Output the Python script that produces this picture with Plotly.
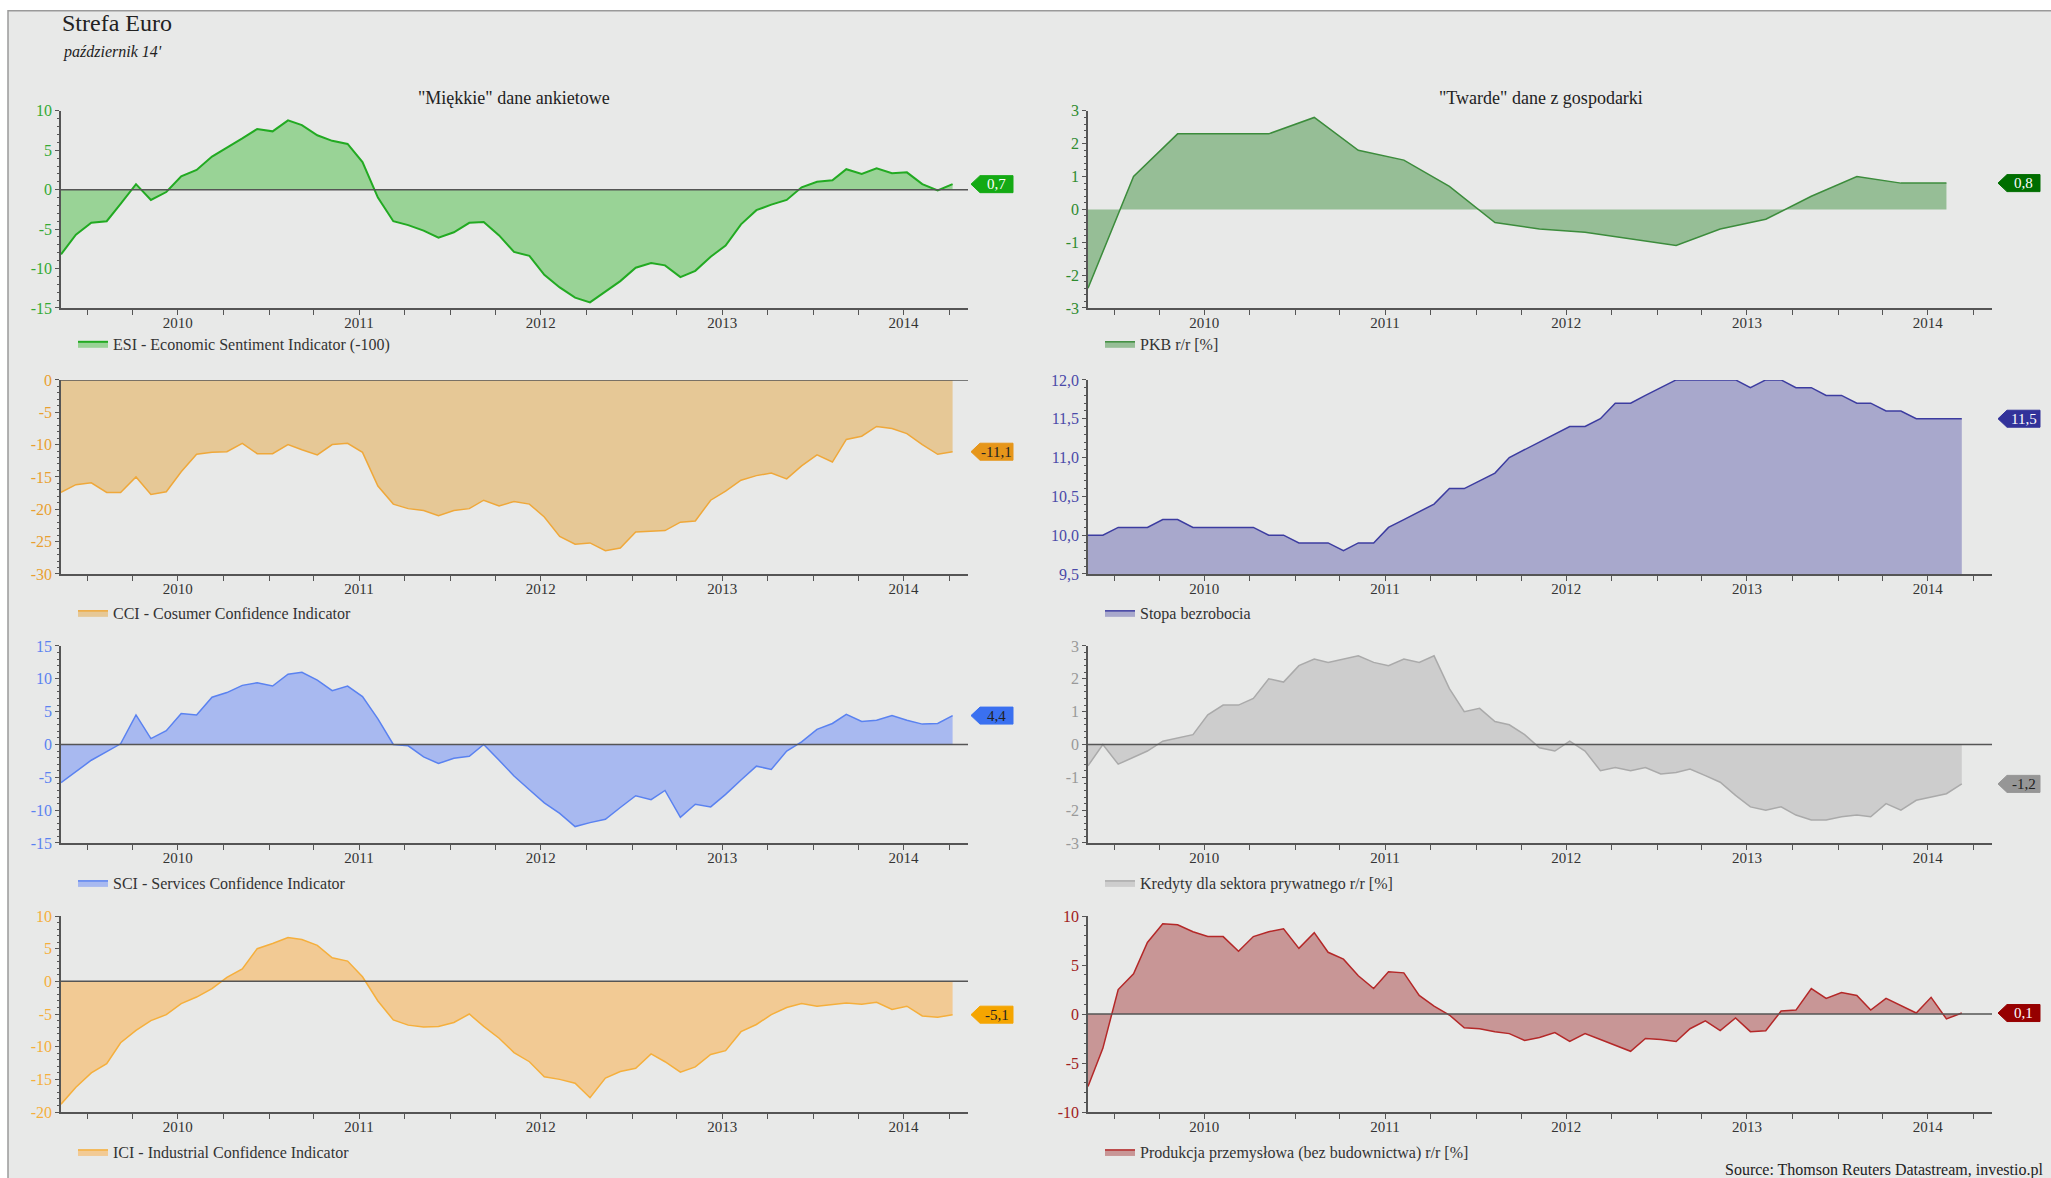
import pandas as pd
import plotly.graph_objects as go

W, H = 2051, 1178
FONT = "Palatino Linotype, Book Antiqua, Palatino, Liberation Serif, serif"
# the photographed page comes out shifted/squeezed vertically: shown_y = 7.15 + 0.9854 * y
Y_OFF, Y_SCALE = 7.15, 0.9854

# monthly points Nov 2009 - Oct 2014, quarterly GDP Q4 2009 - Q3 2014
months = pd.date_range("2009-11-01", periods=60, freq="MS") + pd.Timedelta(days=7)
quarters = pd.date_range("2009-11-01", periods=20, freq="3MS") + pd.Timedelta(days=7)
years = ["2010", "2011", "2012", "2013", "2014"]
year_mid = [y + "-07-01" for y in years]

esi = [-8.2, -5.7, -4.2, -4.0, -1.8, 0.7, -1.3, -0.3, 1.7, 2.5, 4.2, 5.3, 6.5, 7.7, 7.4,
       8.8, 8.2, 6.9, 6.2, 5.8, 3.5, -1.0, -4.0, -4.5, -5.2, -6.1, -5.4, -4.2, -4.1, -5.8,
       -7.9, -8.4, -10.8, -12.4, -13.7, -14.3, -12.9, -11.6, -9.9, -9.3, -9.6, -11.1, -10.3,
       -8.5, -7.1, -4.4, -2.6, -1.9, -1.3, 0.3, 1.0, 1.2, 2.6, 2.0, 2.7, 2.1, 2.2, 0.7, -0.1, 0.7]
cci = [-17.4, -16.2, -15.9, -17.4, -17.4, -15.0, -17.7, -17.3, -14.2, -11.5, -11.2, -11.1,
       -9.8, -11.4, -11.4, -10.0, -10.8, -11.6, -10.0, -9.8, -11.2, -16.4, -19.2, -19.9,
       -20.2, -21.0, -20.2, -19.9, -18.6, -19.5, -18.8, -19.2, -21.2, -24.2, -25.4, -25.2,
       -26.4, -26.0, -23.5, -23.4, -23.3, -22.0, -21.8, -18.6, -17.2, -15.5, -14.8, -14.4,
       -15.3, -13.3, -11.6, -12.7, -9.2, -8.7, -7.2, -7.5, -8.3, -10.0, -11.5, -11.1]
sci = [-5.8, -4.1, -2.4, -1.1, 0.1, 4.5, 0.9, 2.1, 4.7, 4.5, 7.2, 7.9, 9.0, 9.4, 8.9, 10.7,
       11.0, 9.8, 8.2, 8.9, 7.3, 3.9, 0.0, -0.2, -1.9, -2.9, -2.1, -1.8, 0.0, -2.4, -4.8,
       -6.9, -8.9, -10.5, -12.5, -11.9, -11.4, -9.6, -7.8, -8.4, -7.0, -11.1, -9.1, -9.5,
       -7.6, -5.4, -3.3, -3.8, -1.0, 0.4, 2.3, 3.2, 4.6, 3.5, 3.7, 4.4, 3.7, 3.1, 3.2, 4.4]
ici = [-18.8, -16.2, -14.0, -12.6, -9.4, -7.5, -6.0, -5.1, -3.4, -2.4, -1.1, 0.6, 1.9, 5.0,
       5.8, 6.7, 6.4, 5.5, 3.6, 3.1, 0.7, -3.0, -5.9, -6.7, -7.0, -6.9, -6.3, -5.0, -6.9,
       -8.7, -10.9, -12.3, -14.6, -15.0, -15.6, -17.8, -14.8, -13.8, -13.3, -11.1, -12.3,
       -13.9, -13.1, -11.2, -10.6, -7.7, -6.6, -5.1, -4.0, -3.4, -3.8, -3.5, -3.3, -3.5,
       -3.2, -4.3, -3.8, -5.3, -5.5, -5.1]
pkb = [-2.4, 1.0, 2.3, 2.3, 2.3, 2.8, 1.8, 1.5, 0.7, -0.4, -0.6, -0.7, -0.9, -1.1, -0.6,
       -0.3, 0.4, 1.0, 0.8, 0.8]
bezrobocie = [10.0, 10.0, 10.1, 10.1, 10.1, 10.2, 10.2, 10.1, 10.1, 10.1, 10.1, 10.1, 10.0,
              10.0, 9.9, 9.9, 9.9, 9.8, 9.9, 9.9, 10.1, 10.2, 10.3, 10.4, 10.6, 10.6, 10.7,
              10.8, 11.0, 11.1, 11.2, 11.3, 11.4, 11.4, 11.5, 11.7, 11.7, 11.8, 11.9, 12.0,
              12.0, 12.0, 12.0, 12.0, 11.9, 12.0, 12.0, 11.9, 11.9, 11.8, 11.8, 11.7, 11.7,
              11.6, 11.6, 11.5, 11.5, 11.5, 11.5]
kredyty = [-0.65, 0.0, -0.6, -0.4, -0.2, 0.1, 0.2, 0.3, 0.9, 1.2, 1.2, 1.4, 2.0, 1.9, 2.4,
           2.6, 2.5, 2.6, 2.7, 2.5, 2.4, 2.6, 2.5, 2.7, 1.7, 1.0, 1.1, 0.7, 0.6, 0.3, -0.1,
           -0.2, 0.1, -0.2, -0.8, -0.7, -0.8, -0.7, -0.9, -0.85, -0.75, -0.95, -1.15, -1.55,
           -1.9, -2.0, -1.9, -2.15, -2.3, -2.3, -2.2, -2.15, -2.2, -1.8, -2.0, -1.7, -1.6,
           -1.5, -1.2]
produkcja = [-7.4, -3.5, 2.5, 4.1, 7.3, 9.2, 9.1, 8.4, 7.9, 7.9, 6.4, 7.9, 8.4, 8.7, 6.7,
             8.3, 6.3, 5.6, 3.9, 2.6, 4.3, 4.2, 1.9, 0.8, -0.1, -1.4, -1.5, -1.8, -2.0, -2.7,
             -2.4, -1.9, -2.8, -2.0, -2.6, -3.2, -3.8, -2.5, -2.6, -2.8, -1.5, -0.7, -1.7,
             -0.4, -1.8, -1.7, 0.3, 0.4, 2.6, 1.6, 2.2, 1.9, 0.4, 1.6, 0.9, 0.1, 1.7, -0.5, 0.1]

# name, x, y, y-range, tick step, minor step, fill, line, tick colour, tag colour, tag text colour, zero line
panels = [
    ("ESI - Economic Sentiment Indicator (-100)", months, esi, (-15, 10), 5, 1,
     "#99D396", "#22AA22", "#33AA33", "#14AA14", "white", True),
    ("CCI - Cosumer Confidence Indicator", months, cci, (-30, 0), 5, 1,
     "#E6C896", "#EFA83A", "#E8A030", "#E6961A", "#222", True),
    ("SCI - Services Confidence Indicator", months, sci, (-15, 15), 5, 1,
     "#A8B9F0", "#5A82F0", "#5A82F0", "#3A70F0", "#222", True),
    ("ICI - Industrial Confidence Indicator", months, ici, (-20, 10), 5, 1,
     "#F2CA94", "#F5AF3C", "#F5AF3C", "#F5A500", "#222", True),
    ("PKB r/r [%]", quarters, pkb, (-3, 3), 1, 0.2,
     "#96BE96", "#3C8C3C", "#2E8B2E", "#006E00", "white", False),
    ("Stopa bezrobocia", months[:59], bezrobocie, (9.5, 12.0), 0.5, 0.1,
     "#A8A8CC", "#3C3CA0", "#4A4AA8", "#32329A", "white", False),
    ("Kredyty dla sektora prywatnego r/r [%]", months[:59], kredyty, (-3, 3), 1, 0.2,
     "#CDCDCD", "#AAAAAA", "#999999", "#969696", "#222", True),
    ("Produkcja przemysłowa (bez budownictwa) r/r [%]", months[:59], produkcja, (-10, 10), 5, 1,
     "#C89696", "#B42828", "#A02020", "#960000", "white", True),
]

col_px = [(61, 968), (1088, 1992)]
row_px = [(110, 307), (379, 573), (645, 842), (915, 1111)]
legend_row_px = [343, 612, 882, 1151]
tag_px = [(971, 980, 1013), (1998, 2007, 2040)]


def px_x(p):
    return p / W


def px_y(p):
    return (H - (p - Y_OFF) / Y_SCALE) / H


def fmt(v, step):
    s = f"{v:.1f}" if step < 1 else f"{v:g}"
    return s.replace(".", ",")


fig = go.Figure()
shapes = [dict(type="rect", xref="paper", yref="paper", x0=px_x(8), x1=1.02, y0=-0.03, y1=px_y(10),
               fillcolor="#E8E9E8", line=dict(color="#9A9A9A", width=1.5), layer="below")]
annotations = []
layout = {}

for i, (name, x, y, yr, step, minor, fillc, linec, tickc, tagc, tagtext, zero) in enumerate(panels):
    n = i + 1
    sfx = "" if n == 1 else str(n)
    col, row = i // 4, i % 4
    xa, ya = "x" + sfx, "y" + sfx
    leg = "legend" + sfx
    fig.add_trace(go.Scatter(
        x=x, y=y, name=name, mode="lines", fill="tozeroy", fillcolor=fillc,
        line=dict(color=linec, width=2 if n == 1 else 1.5),
        xaxis=xa, yaxis=ya, legend=leg, hoverinfo="x+y"))

    c0, c1 = col_px[col]
    r0, r1 = row_px[row]
    ticks = []
    v = yr[0]
    while v <= yr[1] + 1e-9:
        ticks.append(round(v, 2))
        v += step
    layout["xaxis" + sfx] = dict(
        domain=[px_x(c0), px_x(c1)], anchor=ya, type="date",
        range=["2009-11-08", "2014-11-08"], tickmode="array", tickvals=year_mid,
        ticktext=years, ticks="", showgrid=False, zeroline=False,
        showline=True, linecolor="#555", linewidth=1.5,
        tickfont=dict(size=15, color="#333", family=FONT),
        minor=dict(dtick="M3", tick0="2010-01-01", ticks="outside", ticklen=5,
                   tickcolor="#555", showgrid=False))
    layout["yaxis" + sfx] = dict(
        domain=[px_y(r1), px_y(r0)], anchor=xa, range=list(yr),
        tickmode="array", tickvals=ticks, ticktext=[fmt(t, step) for t in ticks],
        ticks="outside", ticklen=4, tickcolor="#555", showgrid=False, zeroline=False,
        showline=True, linecolor="#555", linewidth=1.5,
        tickfont=dict(size=16, color=tickc, family=FONT),
        minor=dict(dtick=minor, tick0=yr[0], ticks="outside", ticklen=2,
                   tickcolor="#555", showgrid=False))
    layout[leg] = dict(
        x=px_x(c0 + 12), y=px_y(legend_row_px[row]), xanchor="left", yanchor="middle",
        bgcolor="rgba(0,0,0,0)", font=dict(size=16, color="#333", family=FONT))

    if zero:
        shapes.append(dict(type="line", xref=xa + " domain", yref=ya, x0=0, x1=1, y0=0, y1=0,
                           line=dict(color="#555", width=1.5), layer="above"))

    # value tag at the last observation
    last = y[-1]
    hh = 8.5 / (r1 - r0) * (yr[1] - yr[0])
    tp, tl, tr = [px_x(p) for p in tag_px[col]]
    shapes.append(dict(
        type="path", xref="paper", yref=ya,
        path=f"M {tp},{last} L {tl},{last + hh} L {tr},{last + hh} L {tr},{last - hh} L {tl},{last - hh} Z",
        fillcolor=tagc, line=dict(color=tagc, width=1), layer="above"))
    annotations.append(dict(
        xref="paper", yref=ya, x=(tl + tr) / 2, y=last, text=fmt(last, 0.1), showarrow=False,
        font=dict(size=15, color=tagtext, family=FONT), xanchor="center", yanchor="middle"))

annotations += [
    dict(xref="paper", yref="paper", x=px_x(60), y=px_y(22), text="Strefa Euro",
         showarrow=False, xanchor="left", yanchor="middle",
         font=dict(size=24, color="#222", family=FONT)),
    dict(xref="paper", yref="paper", x=px_x(61), y=px_y(51), text="<i>październik 14'</i>",
         showarrow=False, xanchor="left", yanchor="middle",
         font=dict(size=16, color="#222", family=FONT)),
    dict(xref="paper", yref="paper", x=px_x(514), y=px_y(97), text='"Miękkie" dane ankietowe',
         showarrow=False, xanchor="center", yanchor="middle",
         font=dict(size=18, color="#222", family=FONT)),
    dict(xref="paper", yref="paper", x=px_x(1541), y=px_y(97), text='"Twarde" dane z gospodarki',
         showarrow=False, xanchor="center", yanchor="middle",
         font=dict(size=18, color="#222", family=FONT)),
    dict(xref="paper", yref="paper", x=px_x(1723), y=px_y(1169),
         text="Source: Thomson Reuters Datastream, investio.pl",
         showarrow=False, xanchor="left", yanchor="middle",
         font=dict(size=16, color="#222", family=FONT)),
]

fig.update_layout(
    width=W, height=H, autosize=False,
    margin=dict(l=0, r=0, t=0, b=0),
    paper_bgcolor="white", plot_bgcolor="rgba(0,0,0,0)",
    font=dict(family=FONT, color="#333"),
    showlegend=True, shapes=shapes, annotations=annotations,
    **layout)

# pin the chart to the top-left corner of the window
page_js = ("document.body.style.margin='0';"
           "var gd=document.getElementById('{plot_id}');"
           "gd.style.position='fixed';gd.style.top='0';gd.style.left='0';")
fig.write_html("out.html", config={"displayModeBar": False}, post_script=page_js)
